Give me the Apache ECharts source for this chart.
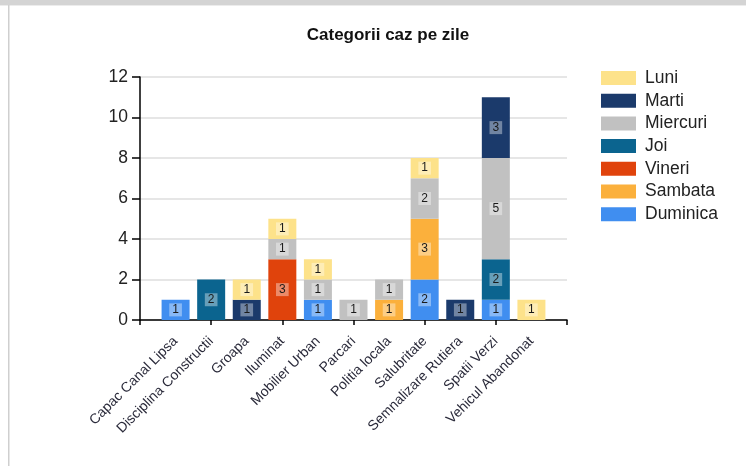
<!DOCTYPE html>
<html>
<head>
<meta charset="utf-8">
<script src="https://cdn.jsdelivr.net/npm/echarts@6/dist/echarts.min.js"></script>
<style>
html,body{margin:0;padding:0;background:#fff;}
#c{width:746px;height:466px;}
</style>
</head>
<body>
<div id="c"></div>
<script>
var categories = ['Capac Canal Lipsa','Disciplina Constructii','Groapa','Iluminat','Mobilier Urban','Parcari','Politia locala','Salubritate','Semnalizare Rutiera','Spatii Verzi','Vehicul Abandonat'];
var legendOrder = ['Luni','Marti','Miercuri','Joi','Vineri','Sambata','Duminica'];
// values per category (null = none)
var duminica = [1, null, null, null, 1, null, null, 2, null, 1, null];
var sambata  = [null, null, null, null, null, null, 1, 3, null, null, null];
var vineri   = [null, null, null, 3, null, null, null, null, null, null, null];
var joi      = [null, 2, null, null, null, null, null, null, null, 2, null];
var miercuri = [null, null, null, 1, 1, 1, 1, 2, null, 5, null];
var marti    = [null, null, 1, null, null, null, null, null, 1, 3, null];
var luni     = [null, null, 1, 1, 1, null, null, 1, null, null, 1];
var yTicks = [0, 2, 4, 6, 8, 10, 12];

var colors = {
  Luni:'#fde28a', Marti:'#1b3a6b', Miercuri:'#c1c1c1', Joi:'#0b648f',
  Vineri:'#e0430c', Sambata:'#fbb03c', Duminica:'#408ef0'
};
var stackOrder = [['Duminica',duminica],['Sambata',sambata],['Vineri',vineri],['Joi',joi],['Miercuri',miercuri],['Marti',marti],['Luni',luni]];

var cats = [''].concat(categories).concat(['']);
function pad(a){ return [null].concat(a).concat([null]); }
var FONT = 'Liberation Sans, Arial, sans-serif';

var series = stackOrder.map(function(s){
  return {
    name: s[0], type: 'bar', stack: 'all', barWidth: 28,
    data: pad(s[1]),
    itemStyle: {color: colors[s[0]]},
    label: {
      show: true, position: 'inside', color: '#1a1a1a', fontSize: 12,
      fontFamily: FONT,
      backgroundColor: 'rgba(255,255,255,0.38)', padding: [1, 3, 0, 3],
      formatter: function(p){ return p.value == null ? '' : String(p.value); }
    }
  };
});

var chart = echarts.init(document.getElementById('c'), null, {renderer: 'canvas'});
chart.setOption({
  animation: false,
  title: {
    text: 'Categorii caz pe zile', left: 388, top: 27, textAlign: 'center', padding: 0,
    textStyle: {fontSize: 17, fontWeight: 'bold', color: '#111', fontFamily: FONT}
  },
  legend: {
    orient: 'vertical', left: 601, top: 69, padding: 0, itemWidth: 35, itemHeight: 14, itemGap: 4.7,
    data: legendOrder, icon: 'rect',
    textStyle: {fontSize: 17.5, lineHeight: 18, color: '#222', fontFamily: FONT, padding: [0,0,0,4]}
  },
  grid: {left: 140, right: 179, top: 77, bottom: 146},
  xAxis: {
    type: 'category', data: cats, boundaryGap: false,
    axisLine: {lineStyle: {color: '#000', width: 1.5}},
    axisTick: {show: true, interval: 1, length: 5, lineStyle: {color: '#000', width: 1.5}},
    axisLabel: {interval: 0, rotate: 45, fontSize: 14, color: '#2a2a3a', margin: 19, fontFamily: FONT},
    splitLine: {show: false}
  },
  yAxis: {
    type: 'value', min: yTicks[0], max: yTicks[yTicks.length-1], interval: 2,
    axisLine: {show: true, lineStyle: {color: '#000', width: 1.5}},
    axisTick: {show: true, length: 8, lineStyle: {color: '#000', width: 1.5}},
    axisLabel: {fontSize: 17.5, color: '#222', margin: 12, fontFamily: FONT},
    splitLine: {lineStyle: {color: '#dedede', width: 1.5}}
  },
  graphic: [
    {type: 'rect', shape: {x: 0, y: 0, width: 746, height: 5}, style: {fill: '#d4d4d4'}},
    {type: 'rect', shape: {x: 0, y: 5, width: 746, height: 1}, style: {fill: '#ececec'}},
    {type: 'rect', shape: {x: 8, y: 5, width: 1.5, height: 461}, style: {fill: '#cfcfcf'}}
  ],
  series: series
});
</script>
</body>
</html>
